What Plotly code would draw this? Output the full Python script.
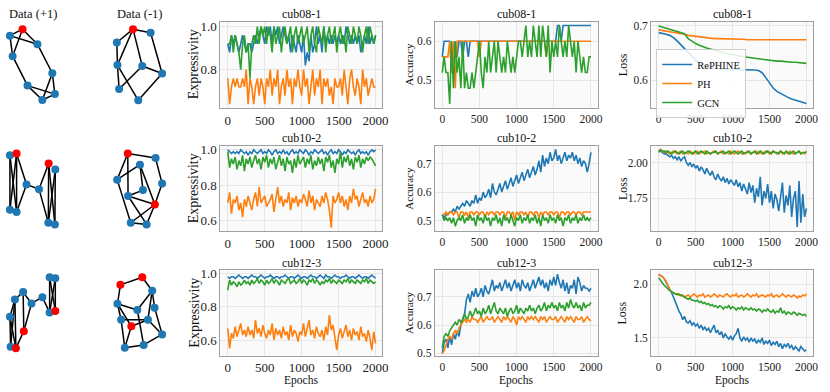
import plotly.graph_objects as go
from plotly.subplots import make_subplots

# ---- epochs (x) ----
epochs = list(range(0, 2001, 25))      # 81 points
epochs_50 = list(range(0, 2001, 50))   # 41 points (smooth curves)

methods = ["RePHINE", "PH", "GCN"]
colors = ["#1f77b4", "#ff7f0e", "#2ca02c"]
datasets = ["cub08-1", "cub10-2", "cub12-3"]

# ---- cub08-1 ----
expr_08_rephine = [0.92, 0.88, 0.96, 0.92, 0.96, 0.92, 0.88, 0.92, 0.96, 0.92,
                   0.88, 0.92, 0.92, 0.88, 0.92, 0.96, 0.92, 0.96, 1.00, 0.96,
                   0.92, 1.00, 0.96, 1.00, 0.92, 1.00, 0.96, 1.00, 0.92, 0.96,
                   1.00, 0.96, 0.92, 0.96, 0.88, 0.96, 0.92, 0.88, 0.96, 0.92,
                   0.88, 0.96, 0.82, 0.88, 0.84, 0.96, 0.88, 0.92, 1.00, 0.92,
                   0.96, 0.88, 1.00, 0.92, 0.96, 0.92, 0.96, 0.92, 0.96, 0.92,
                   0.96, 0.92, 0.96, 0.92, 1.00, 0.96, 0.92, 0.96, 0.92, 0.96,
                   0.92, 0.96, 0.88, 0.92, 0.96, 0.92, 1.00, 0.92, 0.96, 0.92,
                   0.96]
expr_08_ph = [0.76, 0.64, 0.72, 0.76, 0.72, 0.76, 0.72, 0.72, 0.76, 0.72,
              0.80, 0.64, 0.76, 0.72, 0.64, 0.72, 0.76, 0.68, 0.76, 0.72,
              0.64, 0.76, 0.72, 0.80, 0.68, 0.76, 0.72, 0.80, 0.64, 0.72,
              0.76, 0.68, 0.80, 0.72, 0.76, 0.64, 0.76, 0.72, 0.80, 0.72,
              0.68, 0.80, 0.72, 0.76, 0.64, 0.72, 0.80, 0.68, 0.76, 0.72,
              0.80, 0.64, 0.76, 0.72, 0.76, 0.68, 0.72, 0.64, 0.76, 0.72,
              0.72, 0.76, 0.68, 0.80, 0.72, 0.64, 0.76, 0.80, 0.72, 0.68,
              0.76, 0.72, 0.64, 0.80, 0.72, 0.76, 0.68, 0.72, 0.76, 0.72,
              0.72]
expr_08_gcn = [0.92, 0.92, 0.96, 0.88, 0.96, 0.92, 0.88, 0.80, 0.92, 0.96,
               0.88, 0.92, 0.76, 0.92, 0.96, 0.92, 1.00, 0.92, 1.00, 0.96,
               1.00, 0.92, 1.00, 0.96, 0.88, 1.00, 0.92, 0.96, 1.00, 0.88,
               0.96, 1.00, 0.92, 0.96, 1.00, 0.88, 0.96, 1.00, 0.92, 0.96,
               1.00, 0.92, 0.96, 1.00, 0.88, 0.96, 1.00, 0.92, 0.88, 1.00,
               0.96, 0.92, 1.00, 0.88, 0.96, 1.00, 0.92, 0.96, 1.00, 0.88,
               0.96, 1.00, 0.92, 0.96, 0.88, 1.00, 0.96, 0.92, 1.00, 0.96,
               0.92, 1.00, 0.96, 0.88, 0.96, 1.00, 0.92, 1.00, 0.96, 0.92,
               0.96]
acc_08_rephine = [0.56, 0.60, 0.60, 0.60, 0.60, 0.52, 0.56, 0.60, 0.56, 0.60,
                  0.60, 0.56, 0.60, 0.60, 0.56, 0.60, 0.60, 0.60, 0.60, 0.60,
                  0.60, 0.60, 0.60, 0.60, 0.60, 0.60, 0.60, 0.60, 0.60, 0.60,
                  0.60, 0.60, 0.60, 0.60, 0.60, 0.60, 0.60, 0.60, 0.60, 0.60,
                  0.60, 0.60, 0.60, 0.60, 0.60, 0.60, 0.60, 0.60, 0.60, 0.60,
                  0.60, 0.60, 0.60, 0.60, 0.60, 0.60, 0.60, 0.60, 0.60, 0.60,
                  0.60, 0.60, 0.64, 0.64, 0.60, 0.64, 0.64, 0.64, 0.64, 0.64,
                  0.64, 0.64, 0.64, 0.64, 0.64, 0.64, 0.64, 0.64, 0.64, 0.64,
                  0.64]
acc_08_ph = [0.56, 0.56, 0.56, 0.56, 0.60, 0.52, 0.60, 0.48, 0.60, 0.60,
             0.60, 0.60, 0.60, 0.60, 0.60, 0.60, 0.60, 0.60, 0.60, 0.60,
             0.56, 0.60, 0.60, 0.60, 0.60, 0.60, 0.60, 0.60, 0.60, 0.60,
             0.60, 0.60, 0.60, 0.60, 0.60, 0.60, 0.60, 0.60, 0.60, 0.60,
             0.60, 0.60, 0.60, 0.60, 0.60, 0.60, 0.60, 0.60, 0.60, 0.60,
             0.60, 0.60, 0.60, 0.60, 0.60, 0.60, 0.56, 0.60, 0.60, 0.60,
             0.60, 0.60, 0.60, 0.60, 0.60, 0.60, 0.60, 0.60, 0.60, 0.60,
             0.60, 0.60, 0.60, 0.60, 0.60, 0.60, 0.60, 0.60, 0.60, 0.60,
             0.60]
acc_08_gcn = [0.52, 0.56, 0.52, 0.52, 0.44, 0.60, 0.48, 0.60, 0.52, 0.56,
              0.48, 0.60, 0.48, 0.52, 0.48, 0.48, 0.52, 0.48, 0.52, 0.56,
              0.60, 0.52, 0.48, 0.56, 0.52, 0.60, 0.52, 0.56, 0.60, 0.52,
              0.60, 0.56, 0.52, 0.56, 0.52, 0.60, 0.56, 0.52, 0.56, 0.52,
              0.56, 0.60, 0.60, 0.56, 0.60, 0.64, 0.56, 0.60, 0.56, 0.64,
              0.60, 0.56, 0.64, 0.56, 0.64, 0.60, 0.56, 0.64, 0.52, 0.60,
              0.56, 0.60, 0.56, 0.64, 0.60, 0.56, 0.60, 0.56, 0.64, 0.60,
              0.56, 0.60, 0.52, 0.60, 0.56, 0.52, 0.56, 0.52, 0.52, 0.56,
              0.56]
loss_08_rephine = [0.687, 0.686, 0.684, 0.682, 0.678, 0.672, 0.665, 0.657, 0.650, 0.643,
                   0.637, 0.632, 0.628, 0.625, 0.623, 0.622, 0.621, 0.621, 0.620, 0.620,
                   0.620, 0.620, 0.620, 0.620, 0.620, 0.619, 0.619, 0.618, 0.614, 0.605,
                   0.595, 0.586, 0.580, 0.576, 0.572, 0.569, 0.566, 0.564, 0.562, 0.560,
                   0.558]
loss_08_ph = [0.692, 0.691, 0.690, 0.689, 0.688, 0.687, 0.686, 0.684, 0.682, 0.681,
              0.680, 0.679, 0.678, 0.677, 0.677, 0.676, 0.676, 0.676, 0.675, 0.675,
              0.675, 0.675, 0.675, 0.675, 0.674, 0.674, 0.674, 0.674, 0.674, 0.674,
              0.674, 0.674, 0.674, 0.674, 0.674, 0.674, 0.674, 0.674, 0.674, 0.674,
              0.674]
loss_08_gcn = [0.699, 0.697, 0.695, 0.693, 0.691, 0.689, 0.687, 0.685, 0.676, 0.671,
               0.667, 0.664, 0.661, 0.659, 0.657, 0.655, 0.653, 0.651, 0.649, 0.648,
               0.647, 0.645, 0.644, 0.643, 0.642, 0.641, 0.640, 0.639, 0.638, 0.637,
               0.637, 0.636, 0.635, 0.635, 0.634, 0.634, 0.633, 0.633, 0.632, 0.632,
               0.631]

# ---- cub10-2 ----
expr_10_rephine = [1.00, 0.99, 0.98, 0.99, 0.98, 0.99, 0.98, 1.00, 0.99, 0.98,
                   0.99, 0.97, 0.99, 0.98, 1.00, 0.99, 0.98, 0.99, 1.00, 0.98,
                   0.99, 0.98, 1.00, 0.99, 0.97, 0.99, 1.00, 0.98, 0.99, 0.98,
                   1.00, 0.98, 0.99, 0.97, 0.99, 1.00, 0.98, 0.99, 0.98, 1.00,
                   0.99, 0.98, 1.00, 0.99, 0.97, 0.99, 0.98, 1.00, 0.99, 0.98,
                   0.99, 1.00, 0.98, 0.99, 0.97, 0.99, 1.00, 0.98, 0.99, 0.98,
                   1.00, 0.99, 0.97, 0.99, 0.98, 1.00, 0.99, 0.98, 0.99, 0.97,
                   0.99, 1.00, 0.98, 0.99, 0.98, 0.99, 0.97, 0.99, 1.00, 0.99,
                   1.00]
expr_10_ph = [0.70, 0.76, 0.64, 0.72, 0.70, 0.74, 0.66, 0.70, 0.62, 0.72,
              0.68, 0.74, 0.70, 0.66, 0.72, 0.76, 0.68, 0.79, 0.70, 0.72,
              0.74, 0.68, 0.70, 0.72, 0.75, 0.65, 0.72, 0.79, 0.70, 0.74,
              0.68, 0.72, 0.70, 0.76, 0.66, 0.73, 0.70, 0.74, 0.68, 0.72,
              0.70, 0.75, 0.72, 0.68, 0.77, 0.70, 0.74, 0.66, 0.72, 0.70,
              0.68, 0.74, 0.70, 0.76, 0.72, 0.66, 0.56, 0.74, 0.70, 0.72,
              0.76, 0.70, 0.74, 0.68, 0.72, 0.66, 0.74, 0.70, 0.78, 0.72,
              0.74, 0.68, 0.72, 0.76, 0.70, 0.72, 0.68, 0.74, 0.70, 0.72,
              0.78]
expr_10_gcn = [0.99, 0.90, 0.95, 0.92, 0.96, 0.89, 0.94, 0.91, 0.97, 0.88,
               0.95, 0.92, 0.96, 0.90, 0.94, 0.97, 0.92, 0.95, 0.89, 0.96,
               0.93, 0.97, 0.90, 0.95, 0.92, 0.96, 0.89, 0.94, 0.97, 0.91,
               0.95, 0.88, 0.96, 0.92, 0.94, 0.87, 0.95, 0.90, 0.97, 0.92,
               0.94, 0.96, 0.90, 0.95, 0.92, 0.97, 0.89, 0.94, 0.91, 0.96,
               0.92, 0.95, 0.88, 0.96, 0.93, 0.97, 0.90, 0.94, 0.87, 0.95,
               0.92, 0.99, 0.90, 0.96, 0.93, 0.97, 0.91, 0.95, 0.89, 0.96,
               0.93, 0.97, 0.90, 0.95, 0.92, 0.96, 0.94, 0.96, 0.95, 0.93,
               0.91]
acc_10_rephine = [0.52, 0.51, 0.52, 0.52, 0.53, 0.53, 0.54, 0.53, 0.55, 0.54,
                  0.55, 0.56, 0.55, 0.57, 0.56, 0.55, 0.57, 0.56, 0.59, 0.56,
                  0.58, 0.57, 0.60, 0.58, 0.59, 0.61, 0.58, 0.63, 0.60, 0.59,
                  0.61, 0.63, 0.60, 0.62, 0.64, 0.61, 0.63, 0.65, 0.62, 0.64,
                  0.66, 0.63, 0.65, 0.67, 0.64, 0.66, 0.68, 0.65, 0.67, 0.69,
                  0.66, 0.68, 0.71, 0.67, 0.73, 0.69, 0.72, 0.70, 0.74, 0.71,
                  0.72, 0.75, 0.71, 0.73, 0.70, 0.72, 0.74, 0.71, 0.73, 0.72,
                  0.74, 0.71, 0.73, 0.70, 0.72, 0.69, 0.71, 0.70, 0.67, 0.70,
                  0.74]
acc_10_ph = [0.52, 0.52, 0.53, 0.52, 0.53, 0.53, 0.52, 0.53, 0.53, 0.51,
             0.53, 0.53, 0.52, 0.53, 0.51, 0.53, 0.53, 0.52, 0.53, 0.53,
             0.52, 0.53, 0.53, 0.51, 0.53, 0.52, 0.53, 0.53, 0.52, 0.53,
             0.53, 0.52, 0.53, 0.53, 0.51, 0.53, 0.53, 0.52, 0.53, 0.50,
             0.53, 0.52, 0.53, 0.53, 0.52, 0.53, 0.51, 0.53, 0.53, 0.52,
             0.53, 0.53, 0.51, 0.53, 0.52, 0.53, 0.53, 0.52, 0.53, 0.53,
             0.52, 0.53, 0.53, 0.51, 0.53, 0.53, 0.52, 0.53, 0.53, 0.52,
             0.53, 0.53, 0.52, 0.53, 0.53, 0.52, 0.53, 0.53, 0.53, 0.53,
             0.53]
acc_10_gcn = [0.52, 0.50, 0.51, 0.50, 0.51, 0.49, 0.51, 0.48, 0.50, 0.51,
              0.50, 0.52, 0.49, 0.51, 0.50, 0.52, 0.50, 0.51, 0.48, 0.52,
              0.50, 0.51, 0.49, 0.52, 0.50, 0.51, 0.48, 0.51, 0.50, 0.52,
              0.49, 0.51, 0.48, 0.52, 0.50, 0.51, 0.49, 0.52, 0.50, 0.48,
              0.51, 0.50, 0.52, 0.49, 0.51, 0.50, 0.52, 0.49, 0.51, 0.50,
              0.52, 0.49, 0.51, 0.48, 0.52, 0.50, 0.51, 0.49, 0.52, 0.50,
              0.51, 0.49, 0.52, 0.50, 0.51, 0.48, 0.51, 0.50, 0.52, 0.49,
              0.51, 0.50, 0.52, 0.49, 0.51, 0.50, 0.52, 0.50, 0.51, 0.50,
              0.51]
loss_10_rephine = [2.08, 2.08, 2.07, 2.06, 2.06, 2.05, 2.04, 2.05, 2.03, 2.04,
                   2.02, 2.04, 2.01, 2.03, 2.04, 2.00, 1.98, 2.00, 1.97, 1.99,
                   1.96, 1.98, 1.94, 1.97, 1.95, 1.92, 1.96, 1.93, 1.91, 1.94,
                   1.90, 1.88, 1.92, 1.89, 1.87, 1.90, 1.86, 1.89, 1.85, 1.88,
                   1.86, 1.84, 1.88, 1.83, 1.86, 1.80, 1.85, 1.82, 1.78, 1.86,
                   1.79, 1.84, 1.72, 1.82, 1.76, 1.90, 1.70, 1.80, 1.75, 1.85,
                   1.72, 1.80, 1.68, 1.78, 1.74, 1.66, 1.78, 1.86, 1.65, 1.77,
                   1.70, 1.84, 1.62, 1.75, 1.80, 1.55, 1.87, 1.58, 1.78, 1.62,
                   1.68]
loss_10_ph = [2.08, 2.09, 2.08, 2.07, 2.08, 2.07, 2.06, 2.07, 2.08, 2.07,
              2.06, 2.07, 2.08, 2.06, 2.07, 2.07, 2.06, 2.08, 2.07, 2.06,
              2.07, 2.08, 2.06, 2.07, 2.07, 2.08, 2.06, 2.07, 2.06, 2.07,
              2.08, 2.07, 2.06, 2.07, 2.08, 2.06, 2.07, 2.07, 2.06, 2.08,
              2.07, 2.06, 2.07, 2.08, 2.07, 2.06, 2.07, 2.06, 2.08, 2.07,
              2.06, 2.07, 2.07, 2.08, 2.06, 2.07, 2.06, 2.07, 2.08, 2.07,
              2.06, 2.07, 2.08, 2.07, 2.06, 2.07, 2.08, 2.06, 2.07, 2.07,
              2.06, 2.08, 2.07, 2.06, 2.07, 2.07, 2.08, 2.06, 2.07, 2.06,
              2.08]
loss_10_gcn = [2.07, 2.09, 2.08, 2.08, 2.07, 2.08, 2.07, 2.06, 2.07, 2.08,
               2.07, 2.06, 2.07, 2.08, 2.06, 2.07, 2.08, 2.07, 2.06, 2.07,
               2.08, 2.06, 2.07, 2.08, 2.07, 2.06, 2.08, 2.07, 2.06, 2.07,
               2.07, 2.08, 2.06, 2.07, 2.07, 2.08, 2.06, 2.07, 2.08, 2.06,
               2.07, 2.08, 2.07, 2.06, 2.07, 2.08, 2.06, 2.07, 2.07, 2.08,
               2.06, 2.07, 2.08, 2.06, 2.07, 2.08, 2.07, 2.06, 2.07, 2.08,
               2.07, 2.06, 2.08, 2.07, 2.07, 2.06, 2.08, 2.07, 2.06, 2.08,
               2.07, 2.06, 2.07, 2.08, 2.06, 2.07, 2.08, 2.06, 2.07, 2.07,
               2.07]

# ---- cub12-3 ----
expr_12_rephine = [0.98, 0.97, 0.98, 0.98, 0.97, 0.98, 0.99, 0.98, 0.97, 0.98,
                   0.98, 0.97, 0.98, 0.99, 0.98, 0.98, 0.97, 0.98, 0.99, 0.98,
                   0.97, 0.98, 0.98, 0.99, 0.98, 0.97, 0.98, 0.98, 0.97, 0.98,
                   0.98, 0.99, 0.98, 0.97, 0.98, 0.98, 0.97, 0.98, 0.99, 0.98,
                   0.97, 0.98, 0.98, 0.97, 0.98, 0.99, 0.98, 0.98, 0.97, 0.98,
                   0.99, 0.98, 0.97, 0.99, 0.98, 0.98, 0.97, 0.98, 0.99, 0.98,
                   0.98, 0.97, 0.98, 0.98, 0.99, 0.98, 0.97, 0.98, 0.98, 0.97,
                   0.98, 0.99, 0.98, 0.97, 0.98, 0.98, 0.97, 0.98, 0.99, 0.98,
                   0.97]
expr_12_ph = [0.67, 0.55, 0.64, 0.61, 0.68, 0.62, 0.66, 0.70, 0.63, 0.66,
              0.62, 0.68, 0.63, 0.66, 0.61, 0.72, 0.64, 0.67, 0.62, 0.69,
              0.64, 0.61, 0.66, 0.63, 0.70, 0.60, 0.67, 0.63, 0.66, 0.61,
              0.68, 0.63, 0.65, 0.60, 0.69, 0.62, 0.66, 0.64, 0.59, 0.65,
              0.63, 0.70, 0.62, 0.67, 0.72, 0.63, 0.66, 0.61, 0.68, 0.64,
              0.62, 0.66, 0.60, 0.68, 0.63, 0.75, 0.66, 0.69, 0.60, 0.54,
              0.63, 0.67, 0.61, 0.65, 0.69, 0.62, 0.66, 0.60, 0.67, 0.63,
              0.65, 0.60, 0.68, 0.62, 0.64, 0.59, 0.66, 0.61, 0.54, 0.65,
              0.58]
expr_12_gcn = [0.90, 0.96, 0.93, 0.95, 0.94, 0.92, 0.95, 0.93, 0.94, 0.96,
               0.94, 0.95, 0.93, 0.96, 0.94, 0.95, 0.97, 0.94, 0.96, 0.95,
               0.93, 0.96, 0.94, 0.95, 0.97, 0.94, 0.96, 0.95, 0.93, 0.96,
               0.95, 0.94, 0.96, 0.97, 0.94, 0.95, 0.96, 0.94, 0.95, 0.97,
               0.94, 0.96, 0.95, 0.93, 0.96, 0.95, 0.97, 0.94, 0.96, 0.95,
               0.93, 0.95, 0.94, 0.96, 0.95, 0.97, 0.94, 0.96, 0.95, 0.94,
               0.96, 0.95, 0.94, 0.96, 0.95, 0.97, 0.94, 0.96, 0.95, 0.94,
               0.96, 0.95, 0.94, 0.96, 0.95, 0.97, 0.94, 0.96, 0.95, 0.94,
               0.95]
acc_12_rephine = [0.50, 0.54, 0.55, 0.52, 0.56, 0.53, 0.57, 0.55, 0.58, 0.56,
                  0.60, 0.62, 0.64, 0.69, 0.71, 0.68, 0.72, 0.70, 0.73, 0.70,
                  0.71, 0.73, 0.70, 0.74, 0.72, 0.71, 0.74, 0.76, 0.72, 0.74,
                  0.73, 0.75, 0.72, 0.74, 0.76, 0.73, 0.75, 0.72, 0.74, 0.76,
                  0.73, 0.75, 0.72, 0.76, 0.74, 0.73, 0.75, 0.72, 0.74, 0.76,
                  0.73, 0.75, 0.77, 0.74, 0.76, 0.73, 0.75, 0.72, 0.76, 0.74,
                  0.77, 0.74, 0.78, 0.75, 0.73, 0.76, 0.72, 0.75, 0.71, 0.74,
                  0.73, 0.76, 0.71, 0.77, 0.75, 0.72, 0.74, 0.73, 0.73, 0.72,
                  0.73]
acc_12_ph = [0.50, 0.51, 0.53, 0.55, 0.56, 0.55, 0.57, 0.58, 0.57, 0.59,
             0.60, 0.61, 0.62, 0.61, 0.62, 0.61, 0.63, 0.62, 0.62, 0.61,
             0.62, 0.63, 0.61, 0.62, 0.63, 0.62, 0.62, 0.63, 0.61, 0.62,
             0.63, 0.62, 0.61, 0.63, 0.62, 0.63, 0.62, 0.61, 0.63, 0.62,
             0.60, 0.63, 0.62, 0.63, 0.62, 0.61, 0.63, 0.62, 0.63, 0.62,
             0.63, 0.62, 0.61, 0.63, 0.62, 0.63, 0.61, 0.62, 0.63, 0.62,
             0.62, 0.63, 0.61, 0.62, 0.63, 0.62, 0.61, 0.63, 0.62, 0.63,
             0.62, 0.61, 0.63, 0.62, 0.62, 0.63, 0.61, 0.62, 0.63, 0.62,
             0.615]
acc_12_gcn = [0.52, 0.56, 0.57, 0.56, 0.58, 0.59, 0.60, 0.61, 0.60, 0.62,
              0.61, 0.62, 0.64, 0.62, 0.63, 0.65, 0.63, 0.64, 0.66, 0.64,
              0.65, 0.63, 0.66, 0.64, 0.65, 0.67, 0.64, 0.66, 0.68, 0.65,
              0.64, 0.66, 0.65, 0.64, 0.66, 0.63, 0.65, 0.66, 0.64, 0.65,
              0.67, 0.64, 0.66, 0.65, 0.64, 0.66, 0.65, 0.67, 0.65, 0.66,
              0.64, 0.66, 0.67, 0.65, 0.66, 0.68, 0.65, 0.67, 0.66, 0.68,
              0.66, 0.67, 0.65, 0.68, 0.66, 0.67, 0.65, 0.68, 0.66, 0.69,
              0.67, 0.66, 0.68, 0.66, 0.67, 0.65, 0.68, 0.66, 0.67, 0.67,
              0.68]
loss_12_rephine = [2.09, 2.08, 2.07, 2.05, 2.02, 1.99, 1.96, 1.92, 1.88, 1.83,
                   1.79, 1.75, 1.72, 1.67, 1.70, 1.65, 1.64, 1.66, 1.62, 1.64,
                   1.61, 1.63, 1.59, 1.62, 1.58, 1.60, 1.57, 1.59, 1.55, 1.58,
                   1.62, 1.55, 1.57, 1.53, 1.56, 1.50, 1.54, 1.51, 1.49, 1.52,
                   1.48, 1.52, 1.54, 1.59, 1.50, 1.47, 1.51, 1.48, 1.50, 1.46,
                   1.50, 1.47, 1.49, 1.45, 1.48, 1.46, 1.50, 1.44, 1.47, 1.45,
                   1.48, 1.43, 1.46, 1.44, 1.47, 1.42, 1.45, 1.40, 1.44, 1.42,
                   1.45, 1.41, 1.43, 1.39, 1.42, 1.40, 1.38, 1.42, 1.40, 1.38,
                   1.39]
loss_12_ph = [2.09, 2.08, 2.07, 2.05, 2.03, 1.99, 1.95, 1.93, 1.92, 1.91,
              1.90, 1.91, 1.89, 1.90, 1.88, 1.89, 1.90, 1.88, 1.89, 1.91,
              1.89, 1.88, 1.90, 1.89, 1.91, 1.88, 1.89, 1.90, 1.88, 1.89,
              1.91, 1.89, 1.88, 1.90, 1.89, 1.88, 1.90, 1.91, 1.89, 1.88,
              1.90, 1.89, 1.91, 1.88, 1.89, 1.90, 1.88, 1.89, 1.91, 1.89,
              1.88, 1.90, 1.89, 1.91, 1.88, 1.89, 1.90, 1.89, 1.88, 1.90,
              1.89, 1.91, 1.88, 1.89, 1.90, 1.88, 1.89, 1.91, 1.89, 1.88,
              1.90, 1.89, 1.88, 1.90, 1.89, 1.87, 1.89, 1.88, 1.90, 1.89,
              1.91]
loss_12_gcn = [2.06, 2.03, 2.01, 1.99, 1.97, 1.95, 1.94, 1.93, 1.92, 1.91,
               1.91, 1.90, 1.90, 1.89, 1.88, 1.87, 1.86, 1.87, 1.85, 1.85,
               1.84, 1.85, 1.83, 1.84, 1.82, 1.83, 1.81, 1.82, 1.80, 1.81,
               1.79, 1.80, 1.78, 1.80, 1.79, 1.77, 1.79, 1.78, 1.80, 1.77,
               1.79, 1.78, 1.76, 1.78, 1.77, 1.79, 1.76, 1.78, 1.77, 1.76,
               1.78, 1.76, 1.77, 1.75, 1.77, 1.76, 1.74, 1.76, 1.75, 1.77,
               1.75, 1.74, 1.76, 1.73, 1.75, 1.74, 1.78, 1.73, 1.75, 1.72,
               1.74, 1.73, 1.72, 1.74, 1.73, 1.71, 1.73, 1.72, 1.71, 1.72,
               1.70]

# ---- example graphs (node layout, red = highlighted node, edges) ----
g1_x = [22.7, 10, 37.7, 12.7, 52.7, 27.7, 55.3, 42.7]
g1_y = [10.7, 17.3, 26, 38.3, 55.7, 68.3, 77, 83]
g1_red = [1, 0, 0, 0, 0, 0, 0, 0]
g1_edges = [(0, 1), (0, 2), (0, 3), (1, 2), (1, 3), (2, 4), (3, 5), (5, 6), (5, 7), (4, 6), (4, 7), (6, 7)]

g2_x = [26, 43.7, 9.7, 10.3, 35.3, 55.3, 12, 31.3]
g2_y = [10.7, 14.3, 24.3, 47.3, 48.3, 56, 71.7, 83.3]
g2_red = [1, 0, 0, 0, 0, 0, 0, 0]
g2_edges = [(0, 1), (0, 2), (0, 3), (0, 4), (1, 5), (2, 3), (3, 6), (3, 7), (4, 5), (4, 6), (5, 7)]

g3_x = [10, 16.7, 26.7, 10, 16.7, 39.3, 49, 55.7, 48.7, 55.3]
g3_y = [12.3, 10.7, 42.3, 68, 70.3, 47, 20.7, 27, 81.3, 83]
g3_red = [0, 1, 0, 0, 0, 0, 1, 0, 0, 0]
g3_edges = [(0, 1), (0, 3), (0, 4), (1, 3), (1, 4), (1, 2), (2, 4), (2, 5), (5, 6), (5, 8),
            (6, 8), (6, 9), (7, 8), (7, 9), (3, 4), (8, 9)]

g4_x = [20.7, 48.7, 33, 10, 55.3, 36, 21, 48, 23.7, 39.7]
g4_y = [10.7, 15.3, 22, 37.3, 41.3, 48, 54, 62.7, 81.3, 83]
g4_red = [1, 0, 0, 0, 0, 0, 0, 1, 0, 0]
g4_edges = [(0, 1), (0, 3), (0, 6), (3, 2), (2, 5), (2, 7), (1, 4), (4, 7), (5, 6), (6, 7),
            (3, 8), (8, 7), (8, 9), (9, 7), (6, 9)]

g5_x = [50, 55.7, 23.3, 15, 42.7, 31.7, 50, 55.7, 10, 24, 10.7, 16]
g5_y = [9, 10, 24, 31.7, 29.3, 35.7, 45, 43.3, 49.3, 64, 80, 81.3]
g5_red = [0, 0, 0, 0, 0, 0, 0, 1, 0, 1, 0, 1]
g5_edges = [(0, 1), (0, 6), (0, 7), (1, 6), (1, 7), (6, 7), (4, 6), (4, 5), (2, 3), (2, 5),
            (2, 9), (5, 9), (3, 8), (3, 10), (3, 11), (8, 10), (8, 11), (9, 11)]

g6_x = [13.3, 35.3, 45.3, 10.3, 30.3, 47.7, 14, 41, 24.3, 55.3, 17.7, 36.7]
g6_y = [16.7, 9, 22.7, 36, 42.3, 40, 52.3, 52.3, 59, 67.3, 81, 78]
g6_red = [1, 1, 0, 0, 0, 0, 0, 0, 1, 0, 0, 0]
g6_edges = [(0, 1), (0, 3), (1, 2), (2, 4), (2, 5), (2, 7), (3, 4), (3, 6), (3, 8), (4, 11),
            (5, 9), (6, 7), (6, 10), (7, 9), (7, 8), (8, 10), (10, 11), (11, 9)]

# ---------------------------------------------------------------
W, H = 830, 392
SERIF = "Liberation Serif"

fig = make_subplots(rows=3, cols=5)

def px_dom_x(a, b):
    return [a / W, b / W]

def px_dom_y(top, bottom):
    return [1 - bottom / H, 1 - top / H]

row_px = [(18, 106), (145, 232), (272, 359)]
col_px = {3: (222, 385), 4: (438, 602), 5: (656, 819)}
graph_col_px = {1: (0, 70), 2: (108, 178)}
graph_row_px = [(15, 105), (142, 232), (270, 360)]

def axis_id(r, c):
    n = (r - 1) * 5 + c
    return "" if n == 1 else str(n)

# graphs
graphs = [
    (1, 1, g1_x, g1_y, g1_red, g1_edges), (1, 2, g2_x, g2_y, g2_red, g2_edges),
    (2, 1, g3_x, g3_y, g3_red, g3_edges), (2, 2, g4_x, g4_y, g4_red, g4_edges),
    (3, 1, g5_x, g5_y, g5_red, g5_edges), (3, 2, g6_x, g6_y, g6_red, g6_edges),
]
for r, c, gx, gy, gred, gedges in graphs:
    ex, ey = [], []
    for a, b in gedges:
        ex += [gx[a], gx[b], None]
        ey += [gy[a], gy[b], None]
    fig.add_trace(go.Scatter(x=ex, y=ey, mode="lines", line=dict(color="black", width=1.5),
                             showlegend=False, hoverinfo="skip"), row=r, col=c)
    fig.add_trace(go.Scatter(x=gx, y=gy, mode="markers", showlegend=False,
                             marker=dict(size=8, color=["#ff0000" if v else "#1f77b4" for v in gred])),
                  row=r, col=c)
    aid = axis_id(r, c)
    fig.layout["xaxis" + aid].update(domain=px_dom_x(*graph_col_px[c]), range=[0, 70], visible=False)
    fig.layout["yaxis" + aid].update(domain=px_dom_y(*graph_row_px[r - 1]), range=[90, 0], visible=False)

# line panels
panels = [
    # row, col, series (epochs, values), y range, dtick, tickformat
    (1, 3, [(epochs, expr_08_rephine), (epochs, expr_08_ph), (epochs, expr_08_gcn)], [0.623, 1.023], 0.2, ".1f"),
    (1, 4, [(epochs, acc_08_rephine), (epochs, acc_08_ph), (epochs, acc_08_gcn)], [0.43, 0.65], 0.1, ".1f"),
    (1, 5, [(epochs_50, loss_08_rephine), (epochs_50, loss_08_ph), (epochs_50, loss_08_gcn)], [0.55, 0.707], 0.1, ".1f"),
    (2, 3, [(epochs, expr_10_rephine), (epochs, expr_10_ph), (epochs, expr_10_gcn)], [0.54, 1.022], 0.2, ".1f"),
    (2, 4, [(epochs, acc_10_rephine), (epochs, acc_10_ph), (epochs, acc_10_gcn)], [0.462, 0.762], 0.1, ".1f"),
    (2, 5, [(epochs, loss_10_rephine), (epochs, loss_10_ph), (epochs, loss_10_gcn)], [1.52, 2.115], 0.25, ".2f"),
    (3, 3, [(epochs, expr_12_rephine), (epochs, expr_12_ph), (epochs, expr_12_gcn)], [0.506, 1.018], 0.2, ".1f"),
    (3, 4, [(epochs, acc_12_rephine), (epochs, acc_12_ph), (epochs, acc_12_gcn)], [0.492, 0.793], 0.1, ".1f"),
    (3, 5, [(epochs, loss_12_rephine), (epochs, loss_12_ph), (epochs, loss_12_gcn)], [1.336, 2.127], 0.5, ".1f"),
]
tick_size = {3: 13, 4: 11.5, 5: 11.5}

shapes = []
for r, c, series, yr, dt, tf in panels:
    for i, (xs, ys) in enumerate(series):
        fig.add_trace(go.Scatter(x=xs[:len(ys)], y=ys, mode="lines", name=methods[i],
                                 line=dict(color=colors[i], width=1.6),
                                 showlegend=(r == 1 and c == 5)), row=r, col=c)
    aid = axis_id(r, c)
    common = dict(showline=True, mirror=True, linecolor="#a0a0a0", linewidth=1.2,
                  showgrid=True, gridcolor="#e6e6e6", gridwidth=1, zeroline=False, ticks="",
                  tickfont=dict(family=SERIF, size=tick_size[c], color="#222"))
    fig.layout["xaxis" + aid].update(domain=px_dom_x(*col_px[c]), range=[-100, 2090],
                                     tickvals=[0, 500, 1000, 1500, 2000], **common)
    fig.layout["yaxis" + aid].update(domain=px_dom_y(*row_px[r - 1]), range=yr,
                                     dtick=dt, tick0=0, tickformat=tf, **common)
    # faint panel background (only on the line plots)
    shapes.append(dict(type="rect", xref="x" + aid + " domain", yref="y" + aid + " domain",
                       x0=0, x1=1, y0=0, y1=1, fillcolor="#fafafa", line_width=0, layer="below"))

annotations = []
# column headings for graphs
for text, xc in [("Data (+1)", 33), ("Data (-1)", 141)]:
    annotations.append(dict(text=text, x=xc / W, y=1 - 10.5 / H, xref="paper", yref="paper",
                            showarrow=False, xanchor="center", yanchor="middle",
                            font=dict(family=SERIF, size=12.5, color="#111")))
# panel titles
title_y = [10, 137, 264]
for r in range(3):
    for c in (3, 4, 5):
        a, b = col_px[c]
        annotations.append(dict(text=datasets[r], x=(a + b) / 2 / W, y=1 - title_y[r] / H,
                                xref="paper", yref="paper", showarrow=False,
                                xanchor="center", yanchor="middle",
                                font=dict(family=SERIF, size=12, color="#111")))
# y-axis titles
ytitles = {3: ("Expressivity", 195, 14), 4: ("Accuracy", 412, 11), 5: ("Loss", 627, 12)}
for r in range(3):
    top, bottom = row_px[r]
    for c, (text, xc, fs) in ytitles.items():
        annotations.append(dict(text=text, x=xc / W, y=1 - (top + bottom) / 2 / H,
                                xref="paper", yref="paper", showarrow=False, textangle=-90,
                                xanchor="center", yanchor="middle",
                                font=dict(family=SERIF, size=fs, color="#111")))
# x-axis titles
for c in (3, 4, 5):
    a, b = col_px[c]
    annotations.append(dict(text="Epochs", x=(a + b) / 2 / W, y=1 - 384 / H,
                            xref="paper", yref="paper", showarrow=False,
                            xanchor="center", yanchor="middle",
                            font=dict(family=SERIF, size=11.5, color="#111")))

fig.update_layout(
    width=W, height=H,
    margin=dict(l=0, r=0, t=0, b=0),
    paper_bgcolor="white",
    plot_bgcolor="rgba(0,0,0,0)",
    font=dict(family=SERIF, color="#222"),
    annotations=annotations,
    shapes=shapes,
    legend=dict(x=661 / W, y=1 - 46 / H, xanchor="left", yanchor="top",
                bgcolor="rgba(255,255,255,0.85)", bordercolor="#cccccc", borderwidth=1,
                font=dict(family=SERIF, size=10.5, color="#111"),
                itemwidth=30, tracegroupgap=0),
)

# drop the browser's default body margin so the figure sits at the page corner
fig.write_html("out.html", config={"displayModeBar": False},
               post_script="document.body.style.margin='0px';")
